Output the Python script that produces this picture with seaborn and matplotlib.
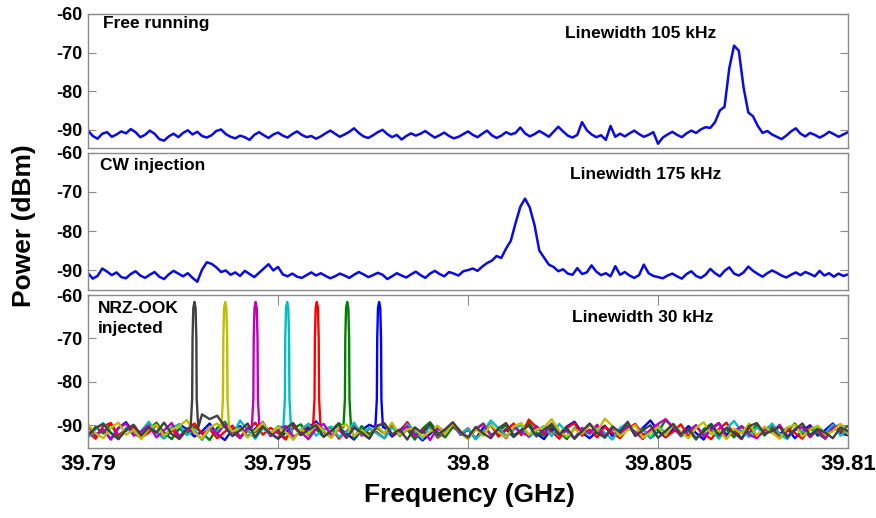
import numpy as np
import seaborn as sns
import matplotlib
matplotlib.use('Agg')
import matplotlib.pyplot as plt

# sweep of the spectrum analyser (GHz)
f_start = 39.79
f_stop = 39.81

# (a) free running, dBm
free_running = [
    -90.2, -91.6, -92.3, -91.0, -90.6, -91.8, -91.2, -90.4, -90.9, -89.8,
    -90.6, -91.9, -91.3, -90.2, -91.0, -92.4, -92.8, -91.7, -91.0, -91.9,
    -90.8, -90.1, -91.2, -90.5, -91.6, -92.0, -91.4, -90.3, -89.9, -91.1,
    -91.8, -92.2, -91.5, -91.9, -92.6, -91.3, -90.6, -91.4, -92.1, -91.2,
    -90.7, -91.5, -92.0, -91.1, -90.4, -91.3, -91.9, -91.6, -92.3, -91.7,
    -90.9, -90.2, -91.0, -91.8, -91.2, -90.5, -89.6, -90.8, -91.7, -92.1,
    -91.4, -90.6, -90.0, -91.1, -91.9, -91.3, -92.5, -91.6, -90.9, -91.5,
    -91.0, -90.3, -91.2, -92.0, -91.4, -90.7, -91.6, -92.2, -91.8, -91.1,
    -90.4, -91.3, -91.9, -91.0, -90.2, -91.4, -92.1, -91.5, -90.6, -91.2,
    -90.8, -89.4, -90.9, -91.7, -91.1, -90.3, -91.0, -91.8, -90.5, -89.2,
    -90.4, -91.5, -92.0, -91.3, -88.0, -90.1, -91.2, -91.9, -91.4, -92.6,
    -89.0, -91.8, -91.0, -91.7, -90.9, -90.2, -91.1, -91.8, -91.3, -90.6,
    -93.6, -92.0, -91.2, -90.5, -91.3, -91.9, -90.9, -90.2, -90.8, -89.9,
    -89.3, -89.5, -88.0, -85.0, -84.0, -74.0, -68.2, -69.5, -79.0, -85.5,
    -86.5, -89.0, -90.8, -90.3, -91.2, -91.8, -92.4, -91.5, -90.4, -89.6,
    -91.0, -91.7, -90.8, -91.3, -92.0, -91.4, -90.5, -91.1, -91.8, -91.2, -90.6,
]

# (b) CW injection, dBm
cw_injection = [
    -90.8, -92.2, -91.5, -89.6, -90.4, -91.3, -90.6, -91.8, -92.1, -91.0,
    -90.3, -91.4, -92.0, -91.2, -90.5, -91.7, -92.3, -91.1, -90.2, -90.9,
    -91.6, -90.8, -92.0, -93.0, -89.9, -88.0, -88.4, -89.3, -90.5, -90.1,
    -91.2, -90.6, -91.5, -90.2, -91.0, -91.8, -90.7, -89.6, -88.5, -90.1,
    -89.2, -91.1, -91.6, -90.9, -91.7, -92.0, -91.3, -90.6, -91.4, -90.8,
    -91.5, -92.1, -91.6, -90.9, -91.4, -92.0, -91.2, -90.5, -91.1, -91.8,
    -91.3, -90.7, -91.2, -92.3, -91.6, -90.8, -91.4, -91.9, -91.1, -90.4,
    -91.3, -92.0, -90.9, -90.2, -91.0, -91.6, -90.5, -90.9, -91.4, -90.3,
    -90.0, -89.6, -90.2, -89.1, -88.2, -87.6, -86.4, -86.9, -84.5, -82.5,
    -78.0, -73.8, -71.7, -74.0, -78.5, -85.0, -86.8, -88.6, -89.2, -90.3,
    -89.8, -90.9, -91.2, -89.5, -91.0, -90.6, -88.8, -90.4, -91.3, -90.8,
    -91.6, -89.0, -91.2, -90.5, -91.4, -92.0, -91.3, -88.6, -90.8, -91.5,
    -91.8, -92.1, -91.4, -90.9, -91.6, -92.2, -91.0, -90.3, -91.5, -92.0,
    -91.2, -89.7, -90.8, -91.6, -90.2, -89.3, -90.9, -91.4, -90.6, -89.1,
    -90.2, -91.0, -91.7, -90.8, -90.1, -90.7, -91.4, -91.9, -91.2, -90.6,
    -91.3, -90.5, -91.0, -91.6, -90.2, -91.4, -90.8, -91.7, -90.9, -91.5, -91.1,
]

# (c) NRZ-OOK injected: one trace per channel (MATLAB colour order)
channel_colors = ['#0000ff', '#008000', '#ff0000', '#00bfbf', '#bf00bf', '#bfbf00', '#404040']
carrier_freqs = [39.79766, 39.79682, 39.79602, 39.79524, 39.79441, 39.79361, 39.79280]
# shape of a locked carrier around its centre frequency (GHz offset, dBm)
spike_offsets = [-0.00010, -0.00006, -0.00005, -0.00003, 0.0, 0.00003, 0.00005, 0.00006, 0.00010]
spike_levels = [-90.5, -84.0, -70.0, -63.0, -61.6, -63.0, -70.0, -84.0, -90.5]

noise_b = [
    -90.1, -92.4, -91.0, -93.2, -90.6, -89.3, -91.8, -92.9, -90.4, -91.6,
    -93.0, -91.2, -89.8, -90.9, -92.6, -91.4, -89.6, -92.1, -93.4, -91.0,
    -90.2, -92.7, -90.8, -89.5, -91.9, -93.1, -91.7, -90.0, -92.3, -90.6,
    -89.1, -91.5, -92.8, -90.7, -91.9, -93.3, -91.1, -89.9, -92.0, -90.5,
    -92.6, -91.3, -89.4, -91.8, -93.5, -92.0, -90.3, -91.6, -89.7, -92.2,
    -91.0, -93.1, -90.6, -89.8, -92.4, -90.9, -92.7, -91.2, -89.6, -91.9,
    -93.2, -90.8, -92.1, -90.3, -89.2, -91.7, -93.0, -91.4, -90.1, -92.5,
    -91.1, -89.7, -92.3, -90.6, -88.9, -91.3, -92.8, -90.9, -92.0, -90.2,
    -91.8, -93.3, -90.7, -89.5, -92.2, -91.0, -93.1, -90.4, -92.6, -91.5,
    -89.8, -92.1, -90.6, -93.0, -91.3, -90.0, -92.4, -91.1, -89.6, -91.9,
    -92.3,
]
noise_g = [
    -92.2, -90.4, -91.9, -89.6, -93.0, -91.3, -90.1, -92.6, -91.0, -89.4,
    -91.7, -93.2, -90.8, -92.0, -90.3, -91.8, -93.4, -90.6, -89.2, -91.5,
    -92.9, -90.5, -91.6, -89.9, -92.4, -91.1, -93.1, -90.7, -89.8, -92.3,
    -90.9, -92.7, -91.2, -89.5, -91.4, -93.0, -90.2, -92.1, -90.6, -91.9,
    -89.7, -92.5, -91.0, -93.3, -90.8, -89.3, -91.6, -92.8, -90.4, -91.7,
    -93.1, -90.9, -89.6, -92.2, -91.4, -90.0, -92.6, -91.1, -89.4, -91.8,
    -92.4, -90.3, -91.5, -93.2, -90.7, -92.0, -89.8, -91.3, -92.9, -90.5,
    -91.9, -89.5, -92.3, -90.8, -93.0, -91.6, -88.8, -90.6, -92.5, -91.2,
    -93.3, -90.9, -89.7, -92.1, -91.0, -92.8, -90.3, -91.7, -89.9, -92.4,
    -90.6, -93.0, -91.4, -89.6, -92.2, -90.8, -91.9, -93.1, -90.5, -91.3,
    -90.2,
]
noise_r = [
    -91.6, -93.1, -90.2, -89.5, -92.3, -91.0, -90.4, -92.8, -91.7, -89.9,
    -92.5, -90.7, -93.2, -91.1, -89.6, -92.0, -90.9, -93.0, -91.5, -90.1,
    -92.7, -91.3, -89.4, -92.2, -90.6, -91.8, -93.3, -90.3, -91.9, -89.7,
    -92.6, -91.0, -90.5, -93.1, -91.4, -89.8, -92.4, -90.8, -91.6, -93.0,
    -90.2, -91.7, -89.3, -92.5, -91.1, -90.4, -92.9, -91.5, -89.9, -92.1,
    -90.7, -93.2, -91.3, -90.0, -92.6, -91.2, -89.6, -92.3, -88.7, -90.5,
    -92.0, -91.4, -93.1, -90.6, -89.5, -92.4, -91.0, -92.8, -90.3, -91.7,
    -93.0, -90.8, -89.7, -92.2, -91.3, -90.1, -92.7, -91.5, -89.8, -92.5,
    -90.4, -91.9, -93.2, -90.9, -89.4, -92.1, -91.6, -90.2, -92.9, -91.1,
    -89.9, -92.6, -90.7, -91.8, -93.1, -90.5, -91.2, -92.3, -90.0, -91.4,
    -92.0,
]
noise_c = [
    -92.8, -90.9, -89.5, -91.7, -93.2, -90.6, -92.0, -91.3, -89.2, -91.8,
    -93.0, -90.4, -89.9, -92.3, -91.1, -93.4, -90.8, -91.6, -89.6, -92.5,
    -88.9, -91.2, -93.1, -90.7, -92.0, -90.2, -91.5, -93.3, -90.9, -89.7,
    -92.4, -91.0, -90.3, -92.7, -91.6, -89.4, -92.1, -90.6, -91.9, -93.0,
    -90.5, -92.2, -89.8, -91.4, -93.1, -90.1, -92.6, -91.2, -89.6, -92.0,
    -90.8, -93.2, -91.5, -88.9, -90.7, -92.4, -91.1, -89.9, -92.8, -91.3,
    -90.2, -92.5, -89.7, -91.6, -93.0, -90.9, -92.1, -90.4, -91.8, -93.3,
    -90.6, -89.5, -92.3, -91.0, -92.9, -90.3, -91.7, -89.8, -92.6, -91.4,
    -90.0, -92.2, -91.1, -93.1, -90.8, -89.0, -91.5, -92.7, -90.5, -91.9,
    -89.6, -92.0, -93.2, -90.7, -91.3, -92.5, -90.2, -91.8, -89.9, -92.4,
    -91.1,
]
noise_m = [
    -90.3, -92.1, -91.0, -93.3, -90.7, -89.6, -92.4, -91.5, -90.0, -92.8,
    -91.2, -89.5, -92.6, -90.9, -91.7, -93.1, -90.4, -92.0, -89.8, -91.4,
    -93.0, -90.6, -91.9, -89.3, -92.5, -91.1, -90.2, -92.7, -91.6, -93.2,
    -90.8, -89.7, -92.3, -91.0, -92.9, -90.5, -91.8, -93.0, -90.1, -89.6,
    -92.2, -91.4, -90.3, -92.6, -91.0, -93.4, -90.7, -92.1, -89.5, -91.7,
    -92.8, -90.9, -89.8, -92.4, -91.2, -93.0, -90.4, -91.6, -92.5, -90.2,
    -91.9, -89.6, -92.3, -91.1, -93.1, -90.6, -91.8, -89.9, -92.7, -90.8,
    -92.0, -90.3, -91.5, -93.2, -91.0, -89.7, -88.6, -90.5, -92.4, -91.3,
    -90.0, -92.6, -91.1, -89.5, -92.9, -91.4, -90.2, -92.2, -93.0, -90.7,
    -91.8, -89.9, -92.5, -91.2, -90.4, -92.8, -91.0, -93.1, -90.6, -89.8,
    -91.6,
]
noise_y = [
    -89.8, -91.9, -93.0, -90.6, -89.4, -92.2, -91.1, -93.2, -90.8, -89.9,
    -92.4, -91.0, -90.2, -88.8, -91.7, -93.1, -90.5, -89.6, -92.3, -91.4,
    -90.7, -92.8, -91.2, -89.5, -92.0, -90.4, -91.6, -93.3, -90.9, -92.1,
    -89.7, -91.3, -92.9, -90.6, -89.8, -92.5, -91.1, -93.0, -90.2, -91.8,
    -89.4, -92.3, -91.0, -90.6, -92.7, -91.5, -90.1, -92.0, -89.6, -91.2,
    -93.1, -90.8, -92.4, -89.9, -91.6, -92.8, -90.3, -89.5, -92.2, -91.0,
    -90.5, -88.6, -91.3, -92.6, -90.9, -92.0, -89.7, -91.4, -88.5, -90.2,
    -92.5, -91.1, -90.0, -92.9, -91.7, -90.4, -92.3, -89.8, -91.5, -93.0,
    -90.6, -89.3, -92.1, -91.2, -93.2, -90.8, -91.9, -89.6, -92.4, -90.3,
    -91.7, -93.1, -90.5, -89.9, -92.6, -91.0, -90.1, -92.2, -91.4, -89.7,
    -92.0,
]
noise_k = [
    -92.4, -90.6, -89.7, -91.8, -93.2, -91.0, -89.9, -92.3, -90.5, -91.7,
    -89.4, -92.0, -93.1, -90.8, -91.6, -87.5, -88.6, -87.8, -90.4, -92.5,
    -91.2, -89.6, -92.7, -90.3, -91.9, -93.0, -90.7, -89.5, -92.2, -91.1,
    -90.0, -92.6, -91.4, -89.8, -92.9, -90.6, -91.7, -93.1, -90.2, -89.6,
    -92.1, -91.0, -93.3, -90.5, -91.8, -89.7, -92.4, -90.9, -89.3, -91.5,
    -92.8, -90.4, -91.9, -93.0, -90.7, -89.5, -92.3, -91.2, -90.1, -92.6,
    -91.0, -89.8, -92.2, -90.6, -93.1, -91.4, -89.6, -91.9, -92.7, -90.3,
    -91.6, -89.2, -92.5, -91.1, -90.0, -92.9, -91.3, -89.7, -92.1, -90.8,
    -93.0, -91.5, -89.9, -92.4, -90.6, -91.8, -93.2, -90.2, -89.5, -92.0,
    -91.3, -90.4, -92.8, -91.0, -89.6, -92.3, -90.9, -91.7, -93.0, -90.5,
    -91.4,
]
nrz_noise = [noise_b, noise_g, noise_r, noise_c, noise_m, noise_y, noise_k]

sns.set_style('ticks')
plt.rcParams['font.family'] = ['Liberation Sans', 'DejaVu Sans']
plt.rcParams['font.weight'] = 'bold'
plt.rcParams['text.color'] = 'black'
plt.rcParams['axes.unicode_minus'] = False

frame = '#8a8a8a'
fig = plt.figure(figsize=(8.76, 5.18), dpi=100)
rects = [[0.1005, 0.7143, 0.8676, 0.2587],
         [0.1005, 0.4402, 0.8676, 0.2645],
         [0.1005, 0.1351, 0.8676, 0.2954]]
ylims = [(-94.7, -60), (-95.1, -60), (-95.25, -60)]
axes = [fig.add_axes(r) for r in rects]

fine = np.linspace(f_start, f_stop, len(free_running))
sns.lineplot(x=fine, y=free_running, ax=axes[0], color='#0a0ae6', linewidth=1.8)
fine2 = np.linspace(f_start, f_stop, len(cw_injection))
sns.lineplot(x=fine2, y=cw_injection, ax=axes[1], color='#0a0ae6', linewidth=1.8)

for noise, f0, col in zip(nrz_noise, carrier_freqs, channel_colors):
    grid = np.linspace(f_start, f_stop, len(noise))
    keep = np.abs(grid - f0) > 0.00012
    fx = np.concatenate([grid[keep], f0 + np.array(spike_offsets)])
    py = np.concatenate([np.array(noise)[keep], np.array(spike_levels)])
    order = np.argsort(fx)
    sns.lineplot(x=fx[order], y=py[order], ax=axes[2], color=col,
                 linewidth=1.7, sort=False)

for ax, yl in zip(axes, ylims):
    ax.set_xlim(f_start, f_stop)
    ax.set_ylim(*yl)
    ax.set_yticks([-90, -80, -70, -60])
    ax.set_xlabel('')
    ax.set_ylabel('')
    for s in ax.spines.values():
        s.set_color(frame)
        s.set_linewidth(1.0)
        s.set_visible(True)
    ax.tick_params(axis='y', direction='in', length=6, width=0.8, color=frame,
                   left=True, right=True, labelsize=13, pad=4, labelcolor='black')
    ax.tick_params(axis='x', bottom=False, labelbottom=False)

ax3 = axes[2]
ax3.set_xticks([39.79, 39.795, 39.8, 39.805, 39.81])
ax3.set_xticklabels(['39.79', '39.795', '39.8', '39.805', '39.81'])
ax3.tick_params(axis='x', direction='in', length=7, width=0.8, color=frame,
                bottom=True, top=True, labelbottom=True, labelsize=16, pad=4,
                labelcolor='black')

txt = dict(fontsize=12.5, fontweight='bold', color='black')
axes[0].text(0.0197, 0.896, 'Free running', transform=axes[0].transAxes, va='baseline', **txt)
axes[0].text(0.727, 0.821, 'Linewidth 105 kHz', transform=axes[0].transAxes, va='baseline', ha='center', **txt)
axes[1].text(0.016, 0.876, 'CW injection', transform=axes[1].transAxes, va='baseline', **txt)
axes[1].text(0.733, 0.810, 'Linewidth 175 kHz', transform=axes[1].transAxes, va='baseline', ha='center', **txt)
axes[2].text(0.013, 0.882, 'NRZ-OOK', transform=axes[2].transAxes, va='baseline', **txt)
axes[2].text(0.013, 0.752, 'injected', transform=axes[2].transAxes, va='baseline', **txt)
axes[2].text(0.730, 0.824, 'Linewidth 30 kHz', transform=axes[2].transAxes, va='baseline', ha='center', **txt)

fig.text(470 / 876, 1 - 495 / 518, 'Frequency (GHz)', ha='center', va='center',
         fontsize=19, fontweight='bold', color='black')
fig.text(24 / 876, 1 - 226 / 518, 'Power (dBm)', ha='center', va='center',
         rotation=90, fontsize=19, fontweight='bold', color='black')

fig.savefig('out.png', dpi=100)
